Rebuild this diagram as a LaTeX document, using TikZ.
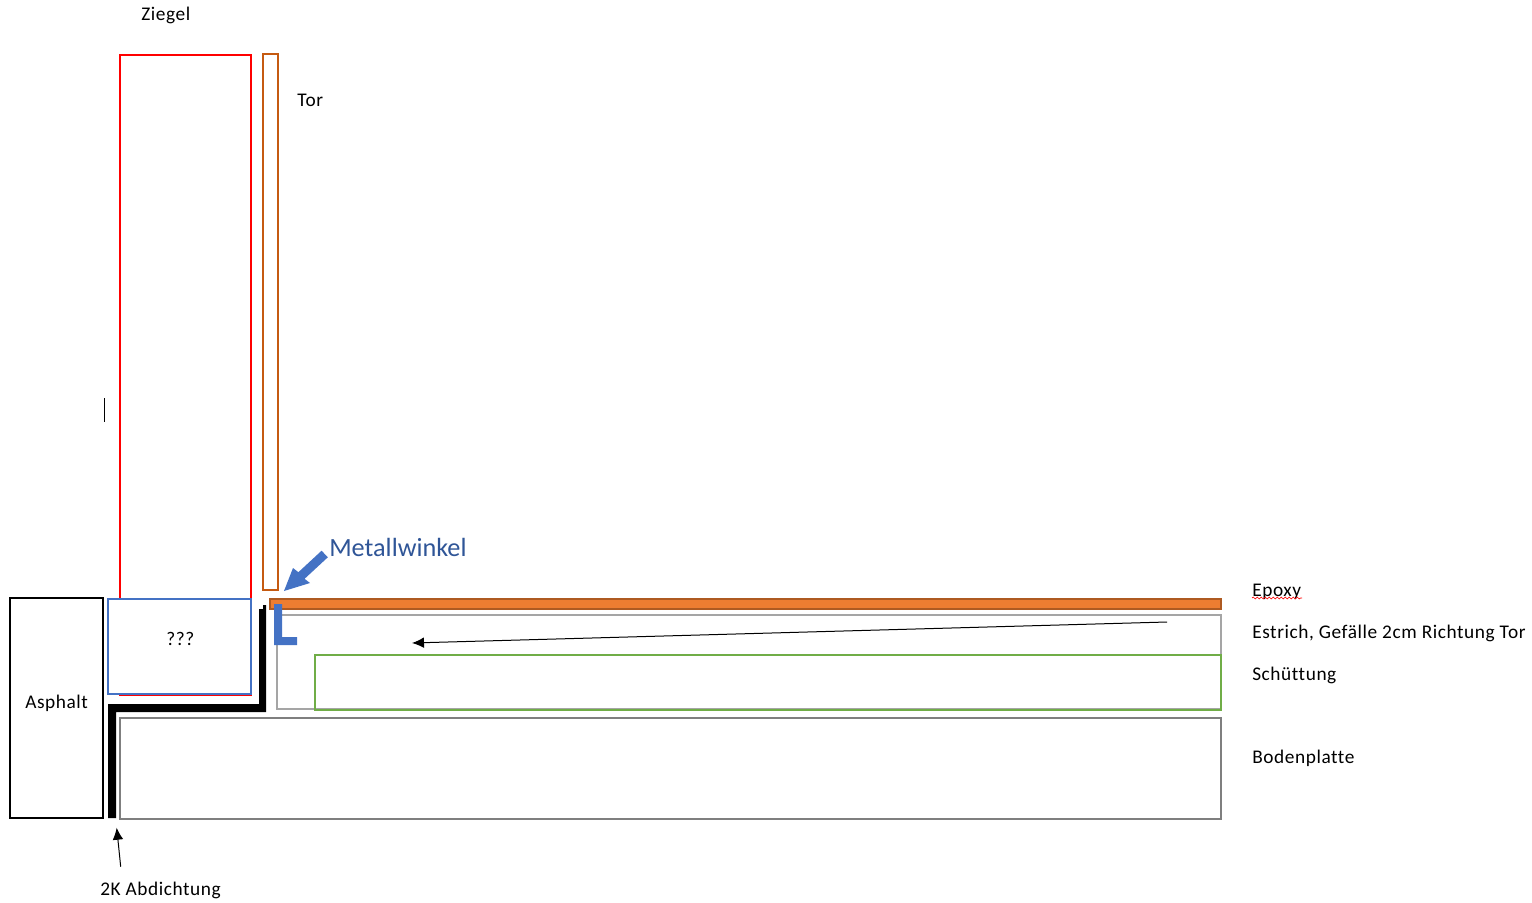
\documentclass[tikz,border=0pt]{standalone}
\usepackage{fontspec}
\setmainfont{Carlito}
\newfontfamily\lblfont[LetterSpace=3,Ligatures=NoCommon]{Carlito}
\usetikzlibrary{arrows.meta,decorations.pathmorphing}
\definecolor{ziegelred}{HTML}{FF0000}
\definecolor{torbrown}{HTML}{C55A11}
\definecolor{winkelblue}{HTML}{4472C4}
\definecolor{textblue}{HTML}{2F5597}
\definecolor{epoxyfill}{HTML}{ED7D31}
\definecolor{epoxyline}{HTML}{AE5A21}
\definecolor{estrichgray}{HTML}{A5A5A5}
\definecolor{schuettgreen}{HTML}{70AD47}
\definecolor{plattegray}{HTML}{7F7F7F}
\tikzset{
  layer/.style={line width=1.5pt},
  lbl/.style={anchor=base west,inner sep=0pt,font=\lblfont\fontsize{14.5pt}{17pt}\selectfont},
  leader/.style={line width=0.75pt,-{Latex[length=9pt,width=8pt]}},
}

\begin{document}
\begin{tikzpicture}[x=0.75pt,y=-0.75pt]
    \useasboundingbox (0,0) rectangle (1532,903);
    \pgfmathsetmacro{\xr}{1221}
    \pgfmathsetmacro{\xt}{1252}

    % Draw the wall and the door
    \draw [layer,ziegelred] (120,55) rectangle (251,694.5);
    \draw [layer,winkelblue,fill=white] (108,599) rectangle (250.5,693.5);
    \draw [layer,torbrown] (263,54) rectangle (278,590);
    \draw [layer,black] (10,598) rectangle (103,818);
    \draw [line width=0.75pt] (104.5,398) -- (104.5,422);

    % Draw the floor layers
    \draw [layer,estrichgray] (277,615) rectangle (\xr,709);
    \draw [layer,schuettgreen] (315,655) rectangle (\xr,710);
    \draw [layer,plattegray] (120,718) rectangle (\xr,819);
    \draw [layer,epoxyline,fill=epoxyfill] (270,599) rectangle (\xr,609);

    % Draw the sealing and the angle
    \fill [black] (108,818) -- (108,704) -- (259,704) -- (259,609) -- (263,609) -- (263,605)
        -- (266,605) -- (266,712) -- (116,712) -- (116,818) -- cycle;
    \fill [winkelblue] (274,645) -- (274,604) -- (282,604) -- (282,637) -- (297,637) -- (297,645) -- cycle;
    \fill [winkelblue] (327.8,557.3) -- (304.6,578.8) -- (310,583) -- (284,591) -- (293,568)
        -- (298.4,572.2) -- (321.6,550.7) -- cycle;

    % Labels
    \node [lbl] (ziegel) at (141,20) {Ziegel};
    \node [lbl] (tor) at (297,106) {Tor};
    \node [lbl] (unklar) at (166,645) {???};
    \node [lbl] (asphalt) at (25,708) {Asphalt};
    \node [lbl] (abdichtung) at (100,895) {2K Abdichtung};
    \node [lbl,font=\fontsize{19.7pt}{23pt}\selectfont,text=textblue] (metallwinkel) at (329,556) {Metallwinkel};
    \node [lbl] (epoxy) at (\xt,596) {Epoxy};
    \node [lbl] (estrich) at (\xt,638) {Estrich, Gefälle 2cm Richtung Tor};
    \node [lbl] (schuettung) at (\xt,680) {Schüttung};
    \node [lbl] (bodenplatte) at (\xt,763) {Bodenplatte};

    % Spelling mark under Epoxy
    \draw [red,line width=0.5pt,decorate,decoration={snake,amplitude=0.7pt,segment length=3pt}]
        (epoxy.base west) ++(0,2) -- ++(50,0);

    % Arrows
    \coordinate (gefaelleA) at (1167,622);
    \coordinate (gefaelleB) at (412,643);
    \coordinate (dichtA) at (120.7,866.7);
    \coordinate (dichtB) at (116.7,827.7);
    \draw [leader] (gefaelleA) -- (gefaelleB);
    \draw [leader] (dichtA) -- (dichtB);
\end{tikzpicture}
\end{document}
